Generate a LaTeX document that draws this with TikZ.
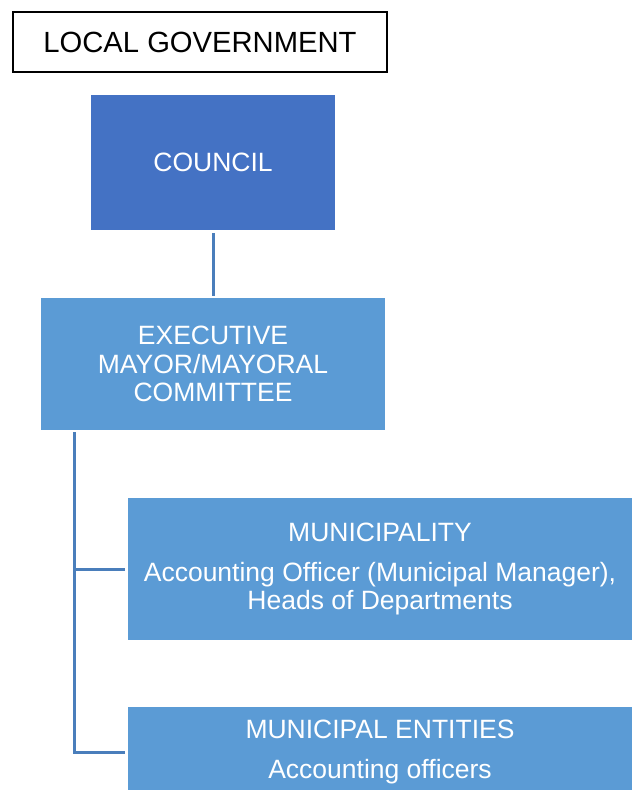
\documentclass[tikz,border=0pt]{standalone}
\usepackage{fontspec}
\setmainfont{Liberation Sans}
\definecolor{councilblue}{RGB}{68,114,196}
\definecolor{boxblue}{RGB}{91,155,213}
\definecolor{linkblue}{RGB}{74,126,187}
\tikzset{
  unit/.style = {font=\fontsize{13.25}{14.25}\selectfont, text=white, inner sep=0pt, align=center},
  link/.style = {draw=linkblue, line width=1.5pt},
}

\begin{document}
\begin{tikzpicture}[x=0.5pt,y=-0.5pt]
  \useasboundingbox (0,0) rectangle (632,790);
  \clip (0,0) rectangle (632,790);
  \node[draw, line width=0.75pt, fill=white, inner sep=0pt, minimum width=187pt, minimum height=30pt,
    font=\fontsize{14.6}{16}\selectfont] (lg) at (200,42) {LOCAL GOVERNMENT};
  \node[unit, fill=councilblue, minimum width=122pt, minimum height=67.5pt] (council) at (213,162.5) {COUNCIL};
  \node[unit, fill=boxblue, minimum width=172pt, minimum height=66pt] (exec) at (213,364)
    {EXECUTIVE\\MAYOR/MAYORAL\\COMMITTEE};
  \node[unit, fill=boxblue, minimum width=252pt, minimum height=71pt] (muni) at (380,569)
    {MUNICIPALITY\\[5.5pt]Accounting Officer (Municipal Manager),\\Heads of Departments};
  \node[unit, fill=boxblue, minimum width=252pt, minimum height=45pt] (ent) at (380,752)
    {MUNICIPAL ENTITIES\\[5.5pt]Accounting officers};
  \draw[link, shorten <=1.5pt, shorten >=1pt] (council) -- (exec);
  \coordinate (trunk) at (74,432);
  \draw[link, shorten >=1.5pt] (trunk) |- (muni.west);
  \draw[link, shorten >=1.5pt] (trunk) |- (ent.west);
\end{tikzpicture}
\end{document}
